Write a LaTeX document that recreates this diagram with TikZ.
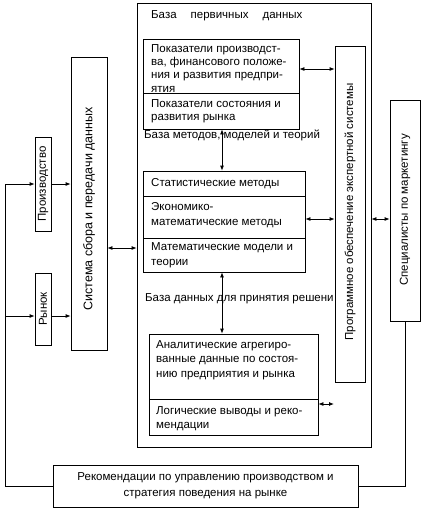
\documentclass[tikz,border=0pt]{standalone}
\usepackage{fontspec}
\setmainfont{Liberation Sans}
\usetikzlibrary{arrows.meta}
\begin{document}
\begin{tikzpicture}[x=1pt,y=-1pt,
  box/.style={draw, line width=0.8pt, inner sep=0pt},
  txt/.style={inner sep=0pt, align=left, anchor=north west, font=\fontsize{11.5}{13.5}\selectfont},
  lbl/.style={inner sep=0pt, anchor=base west, font=\fontsize{11.5}{13.5}\selectfont},
  vtxt/.style={inner sep=0pt, rotate=90, font=\fontsize{11.5}{13.5}\selectfont},
  con/.style={line width=0.8pt},
  sgl/.style={con, -{Latex[length=5pt,width=4pt]}},
  dbl/.style={con, {Latex[length=5pt,width=4pt]}-{Latex[length=5pt,width=4pt]}}]
\useasboundingbox (0,0) rectangle (422,512);
% boxes
\node[box, minimum width=234pt, minimum height=444pt] (outer) at (254,225) {};
\node[box, minimum width=156pt, minimum height=54pt] (box1a) at (221,66) {};
\node[box, minimum width=156pt, minimum height=36pt] (box1b) at (221,111) {};
\node[box, minimum width=162pt, minimum height=25pt] (box2a) at (224,183.5) {};
\node[box, minimum width=162pt, minimum height=42pt] (box2b) at (224,217) {};
\node[box, minimum width=162pt, minimum height=34pt] (box2c) at (224,255) {};
\node[box, minimum width=169pt, minimum height=65pt] (box3a) at (233.5,366.5) {};
\node[box, minimum width=169pt, minimum height=36pt] (box3b) at (233.5,417) {};
\node[box, minimum width=30pt, minimum height=336pt] (expert) at (350,214) {};
\node[box, minimum width=30pt, minimum height=221pt] (spec) at (405,210.5) {};
\node[box, minimum width=36pt, minimum height=293pt] (sys) at (89,203.5) {};
\node[box, minimum width=16pt, minimum height=94pt] (prod) at (43,184) {};
\node[box, minimum width=16pt, minimum height=72pt] (market) at (43,309) {};
\node[box, minimum width=305pt, minimum height=42pt, align=center,
  font=\fontsize{11.5}{16}\selectfont] (rec) at (205.5,486)
  {Рекомендации по управлению производством и\\стратегия поведения на рынке};
% texts
\node[txt] (t0) at (151,10) {База\hspace{14pt}первичных\hspace{14pt}данных};
\node[txt, font=\fontsize{11.5}{13.3}\selectfont] (t1a) at (151,44)
  {Показатели производст-\\ва, финансового положе-\\ния и развития предпри-\\ятия};
\node[txt] (t1b) at (151,99) {Показатели состояния и\\развития рынка};
\node[lbl] (t1c) at (144,138) {База методов, моделей и теорий};
\node[txt] (t2a) at (151,178) {Статистические методы};
\node[txt, font=\fontsize{11.5}{15}\selectfont] (t2b) at (151,202) {Экономико-\\математические методы};
\node[txt, font=\fontsize{11.5}{15.5}\selectfont] (t2c) at (151,242) {Математические модели и\\теории};
\node[lbl] (t2d) at (145,301) {База данных для принятия решени};
\node[txt, font=\fontsize{11.5}{14.5}\selectfont] (t3a) at (156,340)
  {Аналитические агрегиро-\\ванные данные по состоя-\\нию предприятия и рынка};
\node[txt, font=\fontsize{11.5}{14}\selectfont] (t3b) at (156,406) {Логические выводы и реко-\\мендации};
\node[vtxt] (texp) at (350,212) {Программное обеспечение экспертной системы};
\node[vtxt] (tspec) at (405,210) {Специалисты по маркетингу};
\node[vtxt, font=\fontsize{12.5}{14}\selectfont] (tsys) at (89,209) {Система сбора и передачи данных};
\node[vtxt] (tprod) at (43,184) {Производство};
\node[vtxt] (tmarket) at (43,309) {Рынок};
% connectors
\coordinate (fbtop) at (5,184);
\coordinate (fbmid) at (5,316);
\coordinate (b3r) at (334,404);
\draw[sgl] (rec.west) -| (fbtop) -- (prod.west);
\draw[sgl] (fbmid) -- (market.west |- fbmid);
\draw[sgl] (prod.east) -- (sys.west |- prod.east);
\draw[sgl] (market.east |- fbmid) -- (sys.west |- fbmid);
\draw[dbl] (sys.east |- 0,248) -- (outer.west |- 0,248);
\draw[dbl] (box1a.east |- 0,69) -- (expert.west |- 0,69);
\draw[dbl] (box2b.east |- 0,219) -- (expert.west |- 0,219);
\draw[dbl] (outer.east |- 0,219) -- (spec.west |- 0,219);
\draw[dbl] (box1b.south -| 222,0) -- (box2a.north -| 222,0);
\draw[dbl] (box2c.south -| 222,0) -- (box3a.north -| 222,0);
\draw[dbl] (box3b.east |- b3r) -- (b3r);
\draw[con] (spec.south) -- (spec.south |- rec.east) -- (rec.east);
\end{tikzpicture}
\end{document}
